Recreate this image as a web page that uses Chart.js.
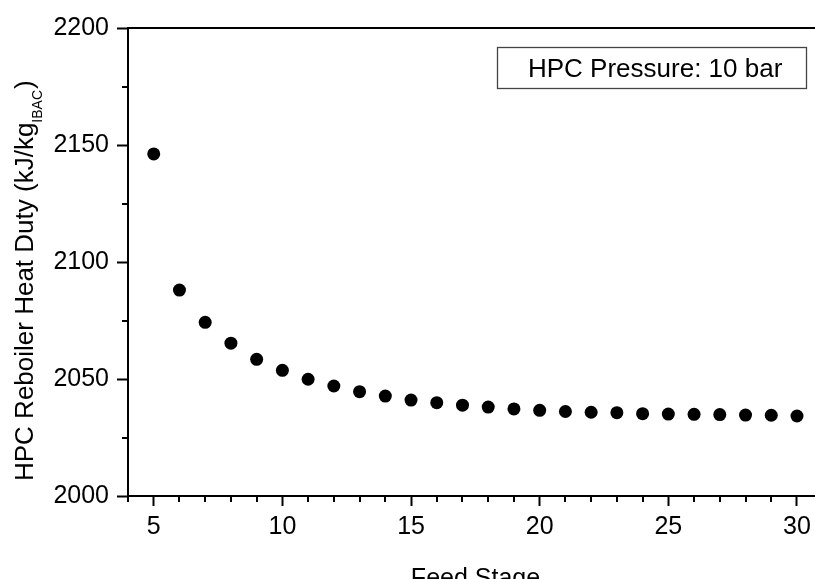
<!DOCTYPE html>
<html>
<head>
<meta charset="utf-8">
<script src="https://cdn.jsdelivr.net/npm/chart.js@4.4.1/dist/chart.umd.min.js"></script>
<style>
  html, body { margin: 0; padding: 0; background: #fff; }
  #wrap { width: 815px; height: 579px; }
</style>
</head>
<body>
<div id="wrap"><canvas id="duty"></canvas></div>
<script>
// HPC reboiler heat duty against feed stage, HPC at 10 bar
const feedStages = [5, 6, 7, 8, 9, 10, 11, 12, 13, 14, 15, 16, 17, 18, 19, 20, 21, 22, 23, 24, 25, 26, 27, 28, 29, 30];
const heatDuty = [2146.2, 2088.0, 2074.2, 2065.3, 2058.4, 2053.7, 2049.9, 2047.0, 2044.6, 2042.7,
                  2041.0, 2039.9, 2038.8, 2038.0, 2037.2, 2036.6, 2036.1, 2035.8, 2035.6, 2035.2,
                  2035.0, 2034.9, 2034.8, 2034.6, 2034.5, 2034.2];

const xMajorTicks = [5, 10, 15, 20, 25, 30];
const xMinorTicks = [4, 6, 7, 8, 9, 11, 12, 13, 14, 16, 17, 18, 19, 21, 22, 23, 24, 26, 27, 28, 29];
const yMajorTicks = [2000, 2050, 2100, 2150, 2200];
const yMinorTicks = [2025, 2075, 2125, 2175];

const xTitle = 'Feed Stage';
const yTitle = 'HPC Reboiler Heat Duty (kJ/kg';
const yTitleSub = 'IBAC';
const boxText = 'HPC Pressure: 10 bar';

const FONT = '"Liberation Sans", Arial, sans-serif';
Chart.defaults.font.family = FONT;
Chart.defaults.color = '#000';

// top frame line, minor ticks, note box and axis titles
const extras = {
  id: 'extras',
  afterDraw(chart) {
    const { ctx, chartArea: a, scales: { x, y } } = chart;
    ctx.save();
    ctx.strokeStyle = '#000';
    ctx.lineWidth = 2;

    ctx.beginPath();
    ctx.moveTo(a.left - 1, a.top);
    ctx.lineTo(a.right, a.top);
    ctx.stroke();

    ctx.beginPath();
    xMinorTicks.forEach(v => {
      const px = Math.round(x.getPixelForValue(v));
      ctx.moveTo(px, a.bottom);
      ctx.lineTo(px, a.bottom + 6);
    });
    yMinorTicks.forEach(v => {
      const py = Math.round(y.getPixelForValue(v));
      ctx.moveTo(a.left - 6, py);
      ctx.lineTo(a.left, py);
    });
    ctx.stroke();

    // note box
    const bx = a.right - 318, by = a.top + 19, bw = 309, bh = 41;
    ctx.lineWidth = 1.3;
    ctx.strokeStyle = '#444';
    ctx.strokeRect(bx + 0.5, by + 0.5, bw, bh);
    ctx.fillStyle = '#000';
    ctx.font = '26px ' + FONT;
    ctx.textAlign = 'left';
    ctx.textBaseline = 'alphabetic';
    ctx.fillText(boxText, bx + 31, by + 30);

    // x title
    ctx.font = '25px ' + FONT;
    ctx.textAlign = 'center';
    ctx.fillText(xTitle, (a.left + a.right) / 2 + 4, a.bottom + 90);

    // y title with subscript
    ctx.translate(a.left - 95, 481);
    ctx.rotate(-Math.PI / 2);
    ctx.textAlign = 'left';
    ctx.font = '26px ' + FONT;
    const w = ctx.measureText(yTitle).width;
    ctx.fillText(yTitle, 0, 0);
    ctx.font = '14px ' + FONT;
    const ws = ctx.measureText(yTitleSub).width;
    ctx.fillText(yTitleSub, w, 9);
    ctx.font = '26px ' + FONT;
    ctx.fillText(')', w + ws + 1, 0);
    ctx.restore();
  }
};

new Chart(document.getElementById('duty'), {
  type: 'scatter',
  data: {
    datasets: [{
      data: feedStages.map((s, i) => ({ x: s, y: heatDuty[i] })),
      pointRadius: 6.5,
      pointHoverRadius: 6.5,
      pointBackgroundColor: '#000',
      pointBorderWidth: 0,
      showLine: false
    }]
  },
  options: {
    responsive: true,
    maintainAspectRatio: false,
    animation: false,
    layout: { autoPadding: false, padding: { top: 28, right: 0, bottom: 0, left: 0 } },
    plugins: { legend: { display: false }, tooltip: { enabled: false } },
    scales: {
      x: {
        type: 'linear',
        min: 4,
        max: 30.7,
        afterBuildTicks: s => { s.ticks = xMajorTicks.map(v => ({ value: v })); },
        afterFit: s => { s.height = 83; s.paddingLeft = 0; s.paddingRight = 0; },
        grid: { drawOnChartArea: false, drawTicks: true, tickLength: 10, tickWidth: 2, tickColor: '#000' },
        border: { display: true, color: '#000', width: 2 },
        ticks: { color: '#000', font: { size: 25 }, padding: 6, maxRotation: 0, autoSkip: false,
                 callback: v => String(v) }
      },
      y: {
        type: 'linear',
        min: 2000,
        max: 2200,
        afterBuildTicks: s => { s.ticks = yMajorTicks.map(v => ({ value: v })); },
        afterFit: s => { s.width = 128; s.paddingTop = 0; s.paddingBottom = 0; },
        grid: { drawOnChartArea: false, drawTicks: true, tickLength: 11, tickWidth: 2, tickColor: '#000' },
        border: { display: true, color: '#000', width: 2 },
        ticks: { color: '#000', font: { size: 25 }, padding: 8, autoSkip: false,
                 callback: v => String(v) }
      }
    }
  },
  plugins: [extras]
});
</script>
</body>
</html>
